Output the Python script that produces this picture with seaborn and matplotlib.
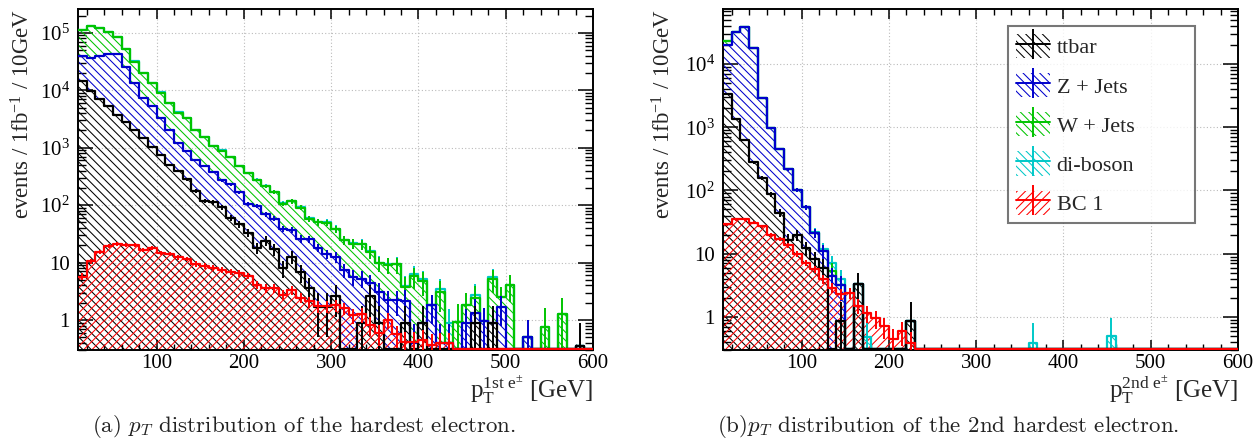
import numpy as np
import pandas as pd
import matplotlib
matplotlib.use("Agg")
import matplotlib.pyplot as plt
import seaborn as sns
from matplotlib.patches import Patch
from matplotlib.lines import Line2D
from matplotlib.ticker import MultipleLocator, LogLocator, FuncFormatter, NullFormatter

edges = np.arange(10, 610, 10)  # 10 GeV bins, 10..600
centers = edges[:-1] + 5

# (a) pT of the hardest electron, events / 1fb^-1 / 10GeV
ttbar_1 = [14500, 9550, 7080, 5250, 3720, 2820, 2040, 1480, 1020, 741,
           501, 389, 282, 178, 120, 112, 91, 60, 47, 33,
           18, 24, 17, 8.1, 12.6, 6.8, 3.6, 1.7, 1.7, 2.6,
           0, 0, 0.87, 2.6, 0.87, 0, 0, 0.87, 0, 0.87,
           0, 0, 0, 0, 0, 0.87, 0, 0.87, 0, 0,
           0, 0, 0, 0, 0, 0, 0, 0.35, 0]
zjets_1 = [24400, 27600, 31800, 37400, 39000, 22900, 11200, 5760, 4230, 2500,
           1540, 811, 609, 425, 359, 260, 178, 169, 119, 72,
           80, 45, 41, 30, 25, 19, 22, 16.5, 12.4, 10,
           7.4, 5.6, 4.4, 1.8, 2.2, 2.2, 2.2, 1.3, 0.4, 0,
           1.8, 0.4, 0.4, 0, 0.87, 0.45, 0.95, 0, 1.7, 0,
           0, 0.5, 0, 0, 0, 0, 0, 0, 0]
wjets_1 = [73000, 91800, 84100, 62300, 42400, 26800, 18400, 12700, 8250, 5880,
           3990, 2870, 2350, 1400, 1070, 698, 622, 447, 313, 258,
           177, 145, 112, 67, 79, 65, 32, 32, 35, 25.4,
           17, 15.8, 15.6, 11, 6.7, 6.9, 7.1, 1.6, 5.4, 3.9,
           0, 2.7, 0, 0.93, 0.95, 1.1, 0, 4.4, 0.8, 4.1,
           0, 0, 0, 0.74, 0, 1.27, 0, 0, 0]
diboson_1 = [500, 650, 600, 500, 400, 260, 180, 120, 85, 60,
             42, 30, 24, 16, 12, 9, 7.5, 6, 4.5, 3.8,
             3, 2.4, 2, 1.6, 1.4, 1.2, 1, 0.9, 0.8, 0.7,
             0.3, 0.3, 0.3, 0.3, 0.2, 0.2, 0.2, 0.2, 0.4, 0.3,
             0, 0.3, 0.5, 0, 0, 0.3, 0, 0.3, 0, 0,
             0, 0, 0, 0, 0, 0, 0, 0, 0]
bc1_1 = [5.7, 10.5, 15.5, 19.5, 21, 20.4, 20.4, 16.6, 18.2, 14.8,
         14.1, 12.3, 11.5, 9.5, 8.7, 8.1, 7.4, 6.8, 6.5, 5.9,
         4.1, 3.6, 3.6, 2.75, 3.3, 2.45, 2.1, 1.74, 1.74, 1.8,
         1.6, 1.2, 1.25, 0.82, 0.59, 1.0, 0.56, 0.42, 0.42, 0.45,
         0.37, 0.39, 0.39, 0, 0, 0, 0, 0, 0, 0,
         0, 0, 0, 0, 0, 0, 0, 0, 0]

# (b) pT of the 2nd hardest electron
ttbar_2 = [3300, 1340, 630, 280, 156, 87, 44, 16.6, 20, 12.3,
           8.1, 5.9, 0, 0.85, 0, 3.3, 0, 0, 0, 0,
           0, 0.85] + [0] * 37
zjets_2 = [16700, 30700, 38400, 17700, 2740, 873, 406, 200, 83, 42,
           13, 5.1, 4.4, 2.3] + [0] * 45
wjets_2 = [3000] + [0] * 11 + [0.9] + [0] * 46
diboson_2 = [0] * 10 + [0.8, 1.0, 1.8, 0.9, 0, 0, 0.49] + [0] * 18 + [0.39] + [0] * 8 + [0.5] + [0] * 14
bc1_2 = [29, 35, 35, 31, 27, 20, 17, 13.5, 10, 7.2,
         5.7, 4.0, 2.9, 2.3, 2.4, 1.5, 1.15, 0.95, 0.71, 0.44,
         0.59, 0.39] + [0] * 37

samples = ["ttbar", "Z + Jets", "W + Jets", "di-boson"]
colors = ["#000000", "#0000cc", "#00c400", "#00c8c8"]
weights = [0.85, 0.5, 1.0, 0.45]  # per-event weight, for stat. errors
bc_color, bc_weight = "#ff0000", 0.1
back_hatch = "\\" * 4
sig_hatch = "////"

sns.set_style("ticks")
plt.rcParams["font.family"] = ["Liberation Serif", "DejaVu Serif"]
plt.rcParams["mathtext.fontset"] = "custom"
plt.rcParams["mathtext.rm"] = "Liberation Serif"
plt.rcParams["mathtext.it"] = "Liberation Serif:italic"
plt.rcParams["mathtext.bf"] = "Liberation Serif:bold"
plt.rcParams["hatch.linewidth"] = 0.75


def ytick_label(v, pos):
    e = int(round(np.log10(v)))
    if e == 0:
        return "1"
    if e == 1:
        return "10"
    return r"$\mathregular{10^{%d}}$" % e


def outline(ax, values, floor, color):
    df = pd.DataFrame({"pt": centers, "w": np.clip(values, floor, None)})
    sns.histplot(data=df, x="pt", weights="w", binwidth=10, binrange=(10, 600),
                 element="step", fill=False, color=color, linewidth=1.6, ax=ax, zorder=3)


def draw_panel(ax, stack, signal, ylim):
    ax.set_yscale("log", nonpositive="clip")
    floor = ylim[0] * 1.03
    vals = np.array(stack, dtype=float)
    cum = np.cumsum(vals, axis=0)
    var = np.cumsum(vals * np.array(weights)[:, None], axis=0)
    base = np.zeros(len(centers))
    for i in range(len(stack)):  # hatched bands of the stack
        ax.stairs(cum[i], edges, baseline=base, fill=True, facecolor="none",
                  edgecolor=colors[i], linewidth=0, hatch=back_hatch)
        base = cum[i]
    for i in reversed(range(len(stack))):  # outlines, top of the stack first
        outline(ax, cum[i], floor, colors[i])
        m = vals[i] > 0
        ax.errorbar(centers[m], cum[i][m], yerr=np.sqrt(var[i][m]), xerr=5, fmt="none",
                    ecolor=colors[i], elinewidth=1.4, zorder=3)
    sig = np.array(signal, dtype=float)
    ax.stairs(sig, edges, baseline=0, fill=True, facecolor="none",
              edgecolor=bc_color, linewidth=0, hatch=sig_hatch)
    outline(ax, sig, floor, bc_color)
    m = sig > 0
    ax.errorbar(centers[m], sig[m], yerr=np.sqrt(sig[m] * bc_weight), xerr=5, fmt="none",
                ecolor=bc_color, elinewidth=1.4, zorder=3)

    ax.set_xlim(10, 600)
    ax.set_ylim(*ylim)
    ax.xaxis.set_major_locator(MultipleLocator(100))
    ax.xaxis.set_minor_locator(MultipleLocator(20))
    ax.yaxis.set_major_locator(LogLocator(base=10, numticks=20))
    ax.yaxis.set_minor_locator(LogLocator(base=10, subs=np.arange(2, 10), numticks=20))
    ax.yaxis.set_major_formatter(FuncFormatter(ytick_label))
    ax.yaxis.set_minor_formatter(NullFormatter())
    ax.tick_params(which="both", direction="in", top=True, right=True,
                   labelsize=15, colors="black")
    ax.tick_params(axis="x", which="major", length=7.5, width=1.1, pad=3)
    ax.tick_params(axis="x", which="minor", length=4, width=1.0)
    ax.tick_params(axis="y", which="major", length=11, width=1.1, pad=6)
    ax.tick_params(axis="y", which="minor", length=5.5, width=1.0)
    ax.grid(True, which="major", color="#bbbbbb", linestyle=(0, (1, 2)), linewidth=0.8)
    ax.set_axisbelow(True)
    for s in ax.spines.values():
        s.set_linewidth(1.4)
        s.set_color("black")


fig = plt.figure(figsize=(12.58, 4.38), dpi=100)
ax1 = fig.add_axes([78 / 1258, 1 - 350 / 438, 515 / 1258, 341 / 438])
ax2 = fig.add_axes([723 / 1258, 1 - 350 / 438, 515 / 1258, 341 / 438])

draw_panel(ax1, [ttbar_1, zjets_1, wjets_1, diboson_1], bc1_1, (0.3, 2.6e5))
draw_panel(ax2, [ttbar_2, zjets_2, wjets_2, diboson_2], bc1_2, (0.3, 7.4e4))

ylab = r"events / 1fb$^{\mathregular{-1}}$ / 10GeV"
for ax, lx, sup in [(ax1, -0.085, "1st"), (ax2, -0.092, "2nd")]:
    ax.set_ylabel(ylab, fontsize=16.5, loc="top")
    ax.yaxis.set_label_coords(lx, 1.0)
    ax.set_xlabel(r"$\mathregular{p_{T}^{%s\ e^{\pm}}}$ [GeV]" % sup, fontsize=18, loc="right")
    ax.xaxis.set_label_coords(1.0, -0.069)

handles = []
for c in colors:
    handles.append((Patch(facecolor="none", edgecolor=c, hatch=back_hatch, linewidth=0),
                    Line2D([], [], color=c, lw=1.4, marker="|", markersize=22, markeredgewidth=1.4)))
handles.append((Patch(facecolor="none", edgecolor=bc_color, hatch=sig_hatch, linewidth=0),
                Line2D([], [], color=bc_color, lw=1.4, marker="|", markersize=22, markeredgewidth=1.4)))
leg = ax2.legend(handles, samples + ["BC 1"], loc="upper left",
                 bbox_to_anchor=(0.553, 0.372, 0.364, 0.578), mode="expand",
                 borderaxespad=0, fontsize=16, frameon=True, fancybox=False,
                 handlelength=1.55, handleheight=1.3, handletextpad=0.3,
                 labelspacing=0.66, borderpad=0.35)
leg.get_frame().set_edgecolor("#555555")
leg.get_frame().set_linewidth(1.5)
leg.set_zorder(10)

fig.text(92 / 1258, 1 - 432 / 438, "(a) $p_T$ distribution of the hardest electron.",
         family="cmr10", math_fontfamily="cm", fontsize=16.5, va="baseline", color="#222222")
fig.text(717 / 1258, 1 - 432 / 438, "(b)$p_T$ distribution of the 2nd hardest electron.",
         family="cmr10", math_fontfamily="cm", fontsize=16.5, va="baseline", color="#222222")

fig.savefig("out.png", dpi=100)
